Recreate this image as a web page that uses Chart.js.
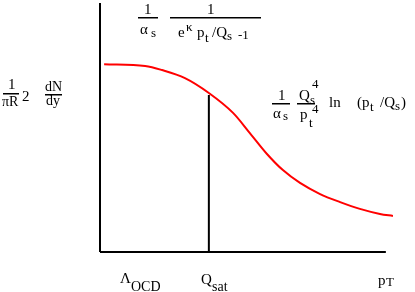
<!DOCTYPE html>
<html>
<head>
<meta charset="utf-8">
<script src="https://cdn.jsdelivr.net/npm/chart.js@4"></script>
<style>
    body { margin: 0; background: #ffffff; }
    #grafico { display: block; }
</style>
</head>
<body>
<canvas id="grafico" width="415" height="292"></canvas>
<script>
// curva (pT, dN/dy), unidades arbitrarias 0..10
var curvaX = [0.14, 1.53, 2.10, 2.88, 3.69, 4.51, 5.08, 5.66, 6.20, 6.78, 7.46, 8.14, 8.81, 9.49, 9.93]
var curvaY = [7.45, 7.38, 7.22, 6.90, 6.31, 5.52, 4.72, 3.89, 3.25, 2.74, 2.30, 1.98, 1.71, 1.51, 1.43]

// eixos e a linha de Qsat
var eixoX = [0, 9.69]
var eixoY = [0, 9.88]
var qsat = 3.69
var qsatTopo = 6.23

var serif = '"Liberation Serif", "DejaVu Serif", serif'

function texto(ctx, s, x, y, tam) {
    ctx.font = tam + 'px ' + serif
    ctx.fillText(s, x, y)
}

function barra(ctx, x1, x2, y) {
    ctx.fillRect(x1, y, x2 - x1, 1.5)
}

var rotulos = {
    id: 'rotulos',
    afterDraw(chart) {
        var ctx = chart.ctx
        ctx.save()
        ctx.fillStyle = '#000000'
        ctx.textBaseline = 'alphabetic'

        // 1/piR^2 dN/dy
        texto(ctx, '1', 8, 89, 15)
        barra(ctx, 3, 19, 93)
        texto(ctx, 'πR', 2, 106, 14)
        texto(ctx, '2', 22, 101, 15)
        texto(ctx, 'dN', 45, 91, 14)
        barra(ctx, 45, 62, 94)
        texto(ctx, 'dy', 46, 105, 14)

        // 1/alpha_s 1/(e^(k pt/Qs) -1)
        texto(ctx, '1', 144, 14, 15)
        barra(ctx, 138, 158, 17)
        texto(ctx, 'α', 140, 34, 15)
        texto(ctx, 's', 151, 37, 13)
        texto(ctx, '1', 207, 14, 15)
        barra(ctx, 170, 261, 17)
        texto(ctx, 'e', 178, 37, 15)
        texto(ctx, 'κ', 186, 31, 13)
        texto(ctx, 'p', 197, 37, 15)
        texto(ctx, 't', 205, 42, 13)
        texto(ctx, '/Q', 212, 37, 15)
        texto(ctx, 's', 227, 40, 13)
        texto(ctx, '-1', 238, 39, 13)

        // 1/alpha_s Qs^4/pt^4 ln(pt/Qs)
        texto(ctx, '1', 278, 100, 15)
        barra(ctx, 272, 290, 103)
        texto(ctx, 'α', 273, 118, 15)
        texto(ctx, 's', 283, 120, 13)
        texto(ctx, 'Q', 299, 100, 15)
        texto(ctx, 's', 310, 104, 13)
        texto(ctx, '4', 312, 88, 13)
        barra(ctx, 297, 315, 103)
        texto(ctx, 'p', 300, 119, 15)
        texto(ctx, 't', 309, 127, 13)
        texto(ctx, '4', 312, 113, 13)
        texto(ctx, 'ln', 329, 107, 15)
        texto(ctx, '(p', 357, 107, 15)
        texto(ctx, 't', 370, 111, 13)
        texto(ctx, '/Q', 380, 107, 15)
        texto(ctx, 's', 395, 110, 13)
        texto(ctx, ')', 401, 107, 15)

        // eixo x
        texto(ctx, 'Λ', 120, 283, 15)
        texto(ctx, 'OCD', 131, 291, 14)
        texto(ctx, 'Q', 201, 284, 15)
        texto(ctx, 'sat', 212, 291, 14)
        texto(ctx, 'p', 378, 285, 15)
        texto(ctx, 'T', 386, 286, 13)

        ctx.restore()
    }
}

function linha(dados, cor) {
    return {
        data: dados,
        borderColor: cor,
        borderWidth: 2,
        pointRadius: 0,
        fill: false,
        clip: false,
        tension: 0
    }
}

var pontos = curvaX.map(function (x, i) { return { x: x, y: curvaY[i] } })

var curva = linha(pontos, '#ff0000')
curva.cubicInterpolationMode = 'monotone'

new Chart(document.getElementById('grafico'), {
    type: 'line',
    data: {
        datasets: [
            curva,
            linha([{ x: eixoX[0], y: 0 }, { x: eixoX[1], y: 0 }], '#000000'),
            linha([{ x: 0, y: eixoY[0] }, { x: 0, y: eixoY[1] }], '#000000'),
            linha([{ x: qsat, y: 0 }, { x: qsat, y: qsatTopo }], '#000000')
        ]
    },
    options: {
        responsive: false,
        animation: false,
        layout: { padding: { left: 100, right: 20, top: 0, bottom: 40 } },
        scales: {
            x: { type: 'linear', min: 0, max: 10, display: false },
            y: { type: 'linear', min: 0, max: 10, display: false }
        },
        plugins: {
            legend: { display: false },
            tooltip: { enabled: false }
        }
    },
    plugins: [rotulos]
});
</script>
</body>
</html>
